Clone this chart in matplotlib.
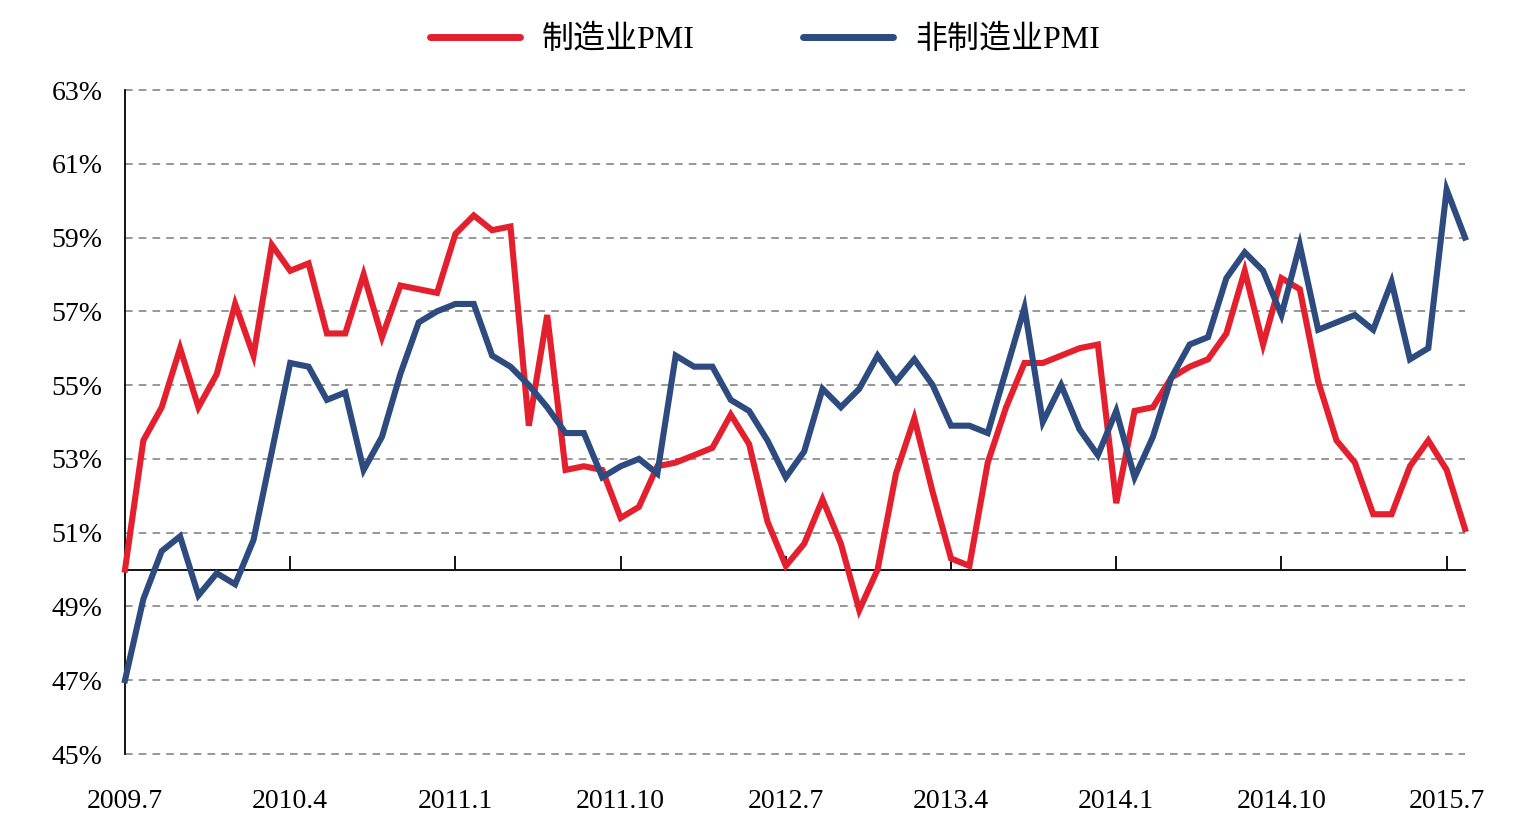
import matplotlib
matplotlib.use("Agg")
import matplotlib.pyplot as plt
import matplotlib.transforms as mtransforms
import numpy as np

# monthly PMI readings, 2009.7 - 2015.8
manufacturing = [50.0, 53.5, 54.4, 56.0, 54.4, 55.3, 57.2, 55.8, 58.8, 58.1,
                 58.3, 56.4, 56.4, 58.0, 56.3, 57.7, 57.6, 57.5, 59.1, 59.6,
                 59.2, 59.3, 53.9, 56.9, 52.7, 52.8, 52.7, 51.4, 51.7, 52.8,
                 52.9, 53.1, 53.3, 54.2, 53.4, 51.3, 50.1, 50.7, 51.9, 50.7,
                 48.9, 50.0, 52.6, 54.1, 52.1, 50.3, 50.1, 52.9, 54.4, 55.6,
                 55.6, 55.8, 56.0, 56.1, 51.8, 54.3, 54.4, 55.2, 55.5, 55.7,
                 56.4, 58.1, 56.1, 57.9, 57.6, 55.1, 53.5, 52.9, 51.5, 51.5,
                 52.8, 53.5, 52.7, 51.1]
non_manufacturing = [47.0, 49.2, 50.5, 50.9, 49.3, 49.9, 49.6, 50.8, 53.2, 55.6,
                     55.5, 54.6, 54.8, 52.7, 53.6, 55.3, 56.7, 57.0, 57.2, 57.2,
                     55.8, 55.5, 55.0, 54.4, 53.7, 53.7, 52.5, 52.8, 53.0, 52.6,
                     55.8, 55.5, 55.5, 54.6, 54.3, 53.5, 52.5, 53.2, 54.9, 54.4,
                     54.9, 55.8, 55.1, 55.7, 55.0, 53.9, 53.9, 53.7, 55.4, 57.1,
                     54.0, 55.0, 53.8, 53.1, 54.3, 52.5, 53.6, 55.2, 56.1, 56.3,
                     57.9, 58.6, 58.1, 56.9, 58.8, 56.5, 56.7, 56.9, 56.5, 57.8,
                     55.7, 56.0, 60.3, 59.0]
tick_labels = ["2009.7", "2010.4", "2011.1", "2011.10", "2012.7",
               "2013.4", "2014.1", "2014.10", "2015.7"]
y_ticks = list(range(45, 64, 2))

plt.rcParams['font.family'] = ['Liberation Serif', 'Noto Sans CJK SC']

x = np.arange(len(manufacturing))
tick_pos = np.arange(len(tick_labels)) * 9

fig = plt.figure(figsize=(15.18, 8.34), dpi=100)
ax = fig.add_axes([125 / 1518, 1 - 754 / 834, 1340 / 1518, 664 / 834])

ax.plot(x, manufacturing, color='#E5202E', lw=4.4, label='制造业PMI',
        solid_joinstyle='miter', zorder=3, clip_on=False)
ax.plot(x, non_manufacturing, color='#2D4B7E', lw=4.4, label='非制造业PMI',
        solid_joinstyle='miter', zorder=3, clip_on=False)

ax.set_xlim(0, len(x) - 1)
ax.set_ylim(45, 63)
ax.set_yticks(y_ticks)
ax.set_yticklabels([f"{v}%" for v in y_ticks], fontsize=20)
ax.hlines(y_ticks, 0, len(x) - 1, linestyles=[(0, (5, 4))], colors='#7a7a7a',
          lw=1.1, clip_on=False, zorder=2)
ax.tick_params(axis='y', length=0, pad=16)

for s in ['top', 'right']:
    ax.spines[s].set_visible(False)
ax.spines['left'].set_linewidth(1.3)
ax.spines['bottom'].set_position(('data', 50))
ax.spines['bottom'].set_linewidth(1.3)
ax.set_xticks(tick_pos)
ax.tick_params(axis='x', direction='in', length=10, width=1.3, labelbottom=False)

# month labels sit under the 45% floor, not at the 50% axis line
trans = mtransforms.blended_transform_factory(ax.transData, ax.transAxes)
for pos, lab in zip(tick_pos, tick_labels):
    ax.text(pos, -0.072, lab, transform=trans, ha='center', va='center',
            fontsize=20)

leg = fig.legend(loc='upper center', bbox_to_anchor=(0.504, 1.005), ncol=2,
                 frameon=False, fontsize=23, handlelength=2.8, handletextpad=0.7,
                 columnspacing=3.4)
for h in leg.get_lines():
    h.set_solid_capstyle('round')
    h.set_linewidth(5)

fig.savefig('out.png', dpi=100)
